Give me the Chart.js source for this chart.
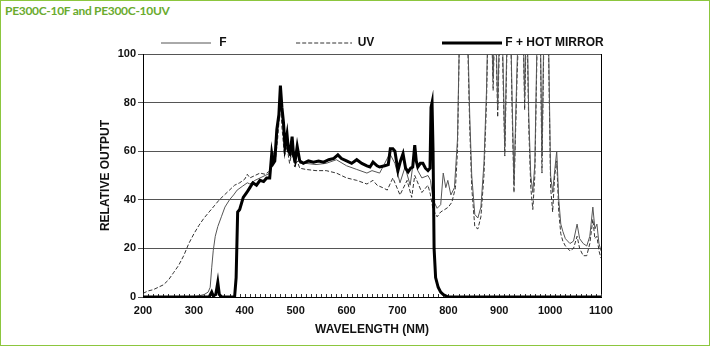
<!DOCTYPE html>
<html lang="en">
<head>
    <meta charset="UTF-8">
    <title>PE300C-10F and PE300C-10UV</title>
    <script src="https://cdn.jsdelivr.net/npm/chart.js"></script>
    <style>
        body { margin: 0; background: #fff; }
        #frame { position: absolute; left: 0; top: 0; width: 708px; height: 344px; border: 1px solid #8cc63e; }
        #title { position: absolute; left: 5px; top: 3px; font: bold 12px Lato, 'Open Sans', sans-serif; letter-spacing: -0.3px; color: #6aab2e; }
        #wrap { position: absolute; left: 0; top: 0; width: 711px; height: 352px; }
    </style>
</head>
<body>
    <div id="frame"></div>
    <div id="title">PE300C-10F and PE300C-10UV</div>
    <div id="wrap"><canvas id="lampChart"></canvas></div>

    <script>
        // series labels
        var seriesNames = ['F', 'UV', 'F + HOT MIRROR'];

        // axis ticks
        var xTicks = [200, 300, 400, 500, 600, 700, 800, 900, 1000, 1100];
        var yTicks = [0, 20, 40, 60, 80, 100];

        // F (thin solid)
        var fNm = [200, 300, 310, 320, 328, 332, 335, 338, 342, 347,
                   354, 361, 370, 378, 385, 395, 405, 410, 420, 430,
                   440, 450, 455, 460, 465, 470, 473, 478, 483, 488,
                   493, 498, 503, 508, 520, 540, 560, 580, 600, 620,
                   640, 650, 665, 685, 695, 705, 715, 725, 734, 740,
                   748, 760, 765, 770, 778, 785, 790, 795, 799, 805,
                   812, 818, 822, 828, 833, 838, 842, 846, 852, 858,
                   864, 870, 875, 878, 883, 888, 892, 897, 901, 906,
                   911, 916, 921, 925, 929, 935, 940, 945, 950, 954,
                   958, 962, 966, 970, 975, 980, 984, 988, 993, 997,
                   1001, 1005, 1009, 1013, 1017, 1021, 1025, 1030, 1039, 1046,
                   1053, 1058, 1065, 1072, 1078, 1084, 1088, 1092, 1096, 1100];
        var fVal = [0, 0, 0.5, 1, 2, 4, 12, 19, 25, 29,
                    33, 37, 40, 42, 44, 45.5, 47, 46.5, 48, 49,
                    50, 51, 60, 57, 70, 86, 75, 62, 67, 58,
                    65, 56, 61, 55, 55, 54.5, 55, 56.5, 54, 52.5,
                    51, 52, 51, 59, 55, 47, 53.5, 46, 60, 52,
                    49, 50, 48, 40, 36.5, 38, 51, 45, 48, 42,
                    45, 65, 110, 130, 125, 110, 75, 50, 34, 32.5,
                    37, 55, 85, 115, 130, 90, 125, 78, 115, 110,
                    62, 115, 130, 85, 47, 95, 125, 130, 82, 125,
                    75, 50, 43, 55, 115, 125, 58, 115, 130, 105,
                    50, 43, 52, 60, 40, 30, 27, 24, 22, 23,
                    30, 24, 22, 21, 25, 37, 28, 30, 22, 19];

        // UV (dashed)
        var uvNm = [200, 210, 220, 230, 240, 250, 260, 270, 280, 290,
                    300, 310, 320, 330, 340, 350, 360, 370, 380, 390,
                    400, 405, 410, 420, 430, 440, 450, 455, 460, 465,
                    470, 473, 478, 483, 488, 493, 498, 503, 508, 520,
                    540, 560, 580, 600, 620, 640, 652, 660, 671, 680,
                    691, 705, 719, 728, 734, 748, 760, 765, 770, 778,
                    785, 793, 800, 807, 814, 818, 822, 828, 833, 838,
                    842, 846, 852, 858, 864, 870, 875, 878, 883, 888,
                    892, 897, 901, 906, 911, 916, 921, 925, 929, 935,
                    940, 945, 950, 954, 958, 962, 966, 970, 975, 980,
                    984, 988, 993, 997, 1001, 1005, 1009, 1013, 1017, 1021,
                    1025, 1030, 1039, 1046, 1053, 1058, 1065, 1072, 1078, 1084,
                    1088, 1092, 1096, 1100];
        var uvVal = [1.5, 2.5, 3, 4, 5, 7, 10, 13, 17, 22,
                     26, 29.5, 32.5, 35, 37.5, 40, 42, 44, 46, 47,
                     48.5, 50.5, 49, 50, 51, 50.5, 52, 57, 56, 66,
                     80, 70, 58, 62, 55, 60, 53.5, 56, 53, 52.5,
                     52, 52, 51, 49, 48, 46.5, 48, 46, 45, 44,
                     49, 42, 48, 41, 50, 43, 46, 42, 36, 33,
                     35, 36, 37, 39, 45, 60, 110, 130, 120, 105,
                     70, 45, 29, 28, 33, 50, 80, 110, 130, 85,
                     120, 74, 110, 105, 58, 110, 130, 80, 43, 90,
                     120, 130, 77, 120, 70, 45, 36, 50, 110, 120,
                     51, 110, 130, 100, 45, 35, 50, 56, 35, 26,
                     23, 21, 19, 20, 25, 20, 17, 17, 22, 32,
                     24, 25, 19, 16];

        // F + HOT MIRROR (thick)
        var hmNm = [200, 330, 335, 338, 343, 347, 350, 355, 380, 383,
                    386, 390, 397, 404, 410, 416, 423, 430, 437, 443,
                    449, 453, 456, 459, 463, 467, 470, 473, 476, 479,
                    483, 486, 489, 493, 496, 499, 503, 508, 515, 525,
                    535, 545, 555, 565, 575, 583, 590, 600, 610, 620,
                    630, 640, 646, 652, 660, 665, 675, 682, 686, 691,
                    695, 701, 706, 711, 716, 721, 726, 730, 734, 737,
                    740, 745, 750, 755, 760, 764, 766, 768, 770, 772,
                    775, 780, 785, 790, 795, 800, 1100];
        var hmVal = [0, 0, 2, 0.5, 1, 6, 1, 0, 0, 8,
                     35, 36, 41, 43, 45, 47, 46, 48, 47.5, 49,
                     49, 59, 55, 56, 69, 75, 87, 78, 72, 62,
                     67, 60, 59, 66, 58, 56, 62, 56, 55, 56,
                     55.5, 56, 55.5, 56.5, 57, 58.5, 57, 56, 55, 56.5,
                     55, 54, 53.5, 55.5, 54, 53.5, 54, 54.5, 61, 61,
                     60, 52, 56, 59, 53, 51.5, 53, 53.5, 62.5, 56,
                     53.5, 55, 55, 53, 52, 53, 78, 80, 60, 20,
                     8, 4, 2, 1, 0.5, 0, 0];

        function pairs(xs, ys) {
            return xs.map(function (x, i) { return { x: x, y: ys[i] }; });
        }

        // legend sample line drawn into a small canvas (keeps the dash)
        function swatch(w, lw, color, dash) {
            var c = document.createElement('canvas');
            c.width = w;
            c.height = 4;
            var g = c.getContext('2d');
            g.strokeStyle = color;
            g.lineWidth = lw;
            g.setLineDash(dash);
            g.beginPath();
            g.moveTo(0, 2);
            g.lineTo(w, 2);
            g.stroke();
            return c;
        }

        Chart.defaults.font.family = "'Liberation Sans', Arial, sans-serif";
        Chart.defaults.color = '#111';

        // legend box sits a bit closer to the plot than Chart.js allows
        var legendFit = {
            id: 'legendFit',
            beforeLayout: function (chart) {
                var lg = chart.legend;
                if (lg && !lg.fitPatched) {
                    var fit = lg.fit;
                    lg.fit = function () { fit.call(this); this.height -= 5; };
                    lg.fitPatched = true;
                }
            }
        };

        // small inward ticks every 10 nm along the bottom
        var minorTicks = {
            id: 'minorTicks',
            beforeDatasetsDraw: function (chart) {
                var ctx = chart.ctx, area = chart.chartArea, x = chart.scales.x;
                ctx.save();
                ctx.strokeStyle = '#333';
                ctx.lineWidth = 1;
                ctx.beginPath();
                for (var v = x.min; v <= x.max; v += 10) {
                    var px = Math.round(x.getPixelForValue(v)) + 0.5;
                    ctx.moveTo(px, area.bottom);
                    ctx.lineTo(px, area.bottom - 3);
                }
                ctx.stroke();
                ctx.restore();
            }
        };

        var ctx = document.getElementById('lampChart').getContext('2d');
        var lampChart = new Chart(ctx, {
            type: 'line',
            data: {
                datasets: [{
                    label: seriesNames[0],
                    data: pairs(fNm, fVal),
                    borderColor: '#555',
                    borderWidth: 1,
                    pointStyle: swatch(50, 1, '#555', []),
                    order: 1
                }, {
                    label: seriesNames[1],
                    data: pairs(uvNm, uvVal),
                    borderColor: '#333',
                    borderWidth: 1,
                    borderDash: [4, 2],
                    pointStyle: swatch(56, 1, '#333', [4, 2]),
                    order: 2
                }, {
                    label: seriesNames[2],
                    data: pairs(hmNm, hmVal),
                    borderColor: '#000',
                    borderWidth: 3,
                    pointStyle: swatch(60, 3, '#000', []),
                    order: 0
                }]
            },
            options: {
                responsive: true,
                maintainAspectRatio: false,
                animation: false,
                elements: {
                    point: { radius: 0, hoverRadius: 0 },
                    line: { tension: 0, fill: false }
                },
                layout: {
                    autoPadding: false,
                    padding: { top: -33, left: 60, right: 9, bottom: 10 }
                },
                plugins: {
                    tooltip: { enabled: false },
                    legend: {
                        position: 'top',
                        labels: {
                            usePointStyle: true,
                            pointStyleWidth: 55,
                            padding: 70,
                            color: '#111',
                            font: { size: 12, weight: 'bold' },
                            sort: function (a, b) { return a.datasetIndex - b.datasetIndex; }
                        }
                    }
                },
                scales: {
                    x: {
                        type: 'linear',
                        min: 200,
                        max: 1100,
                        afterFit: function (s) { s.height = 45; },
                        afterBuildTicks: function (s) {
                            s.ticks = xTicks.map(function (v) { return { value: v }; });
                        },
                        ticks: {
                            padding: 7,
                            maxRotation: 0,
                            font: { size: 11, weight: 'bold' },
                            callback: function (v) { return String(v); }
                        },
                        grid: { display: false, drawTicks: false },
                        border: { display: true, color: '#000', width: 1 },
                        title: {
                            display: true,
                            text: 'WAVELENGTH (NM)',
                            padding: { top: 0, bottom: 5 },
                            font: { size: 12, weight: 'bold' }
                        }
                    },
                    y: {
                        min: 0,
                        max: 100,
                        afterFit: function (s) { s.width = 83; },
                        afterBuildTicks: function (s) {
                            s.ticks = yTicks.map(function (v) { return { value: v }; });
                        },
                        ticks: { padding: 2, font: { size: 11, weight: 'bold' } },
                        grid: { color: '#555', lineWidth: 1, tickLength: 5 },
                        border: { display: true, color: '#000', width: 1 },
                        title: {
                            display: true,
                            text: 'RELATIVE OUTPUT',
                            padding: { top: 38, bottom: 0 },
                            font: { size: 12, weight: 'bold' }
                        }
                    },
                    y2: {
                        position: 'right',
                        min: 0,
                        max: 100,
                        afterFit: function (s) { s.width = 101; },
                        ticks: { display: false },
                        grid: { drawOnChartArea: false, drawTicks: false },
                        border: { display: true, color: '#000', width: 1 }
                    }
                }
            },
            plugins: [legendFit, minorTicks]
        });
    </script>
</body>
</html>
